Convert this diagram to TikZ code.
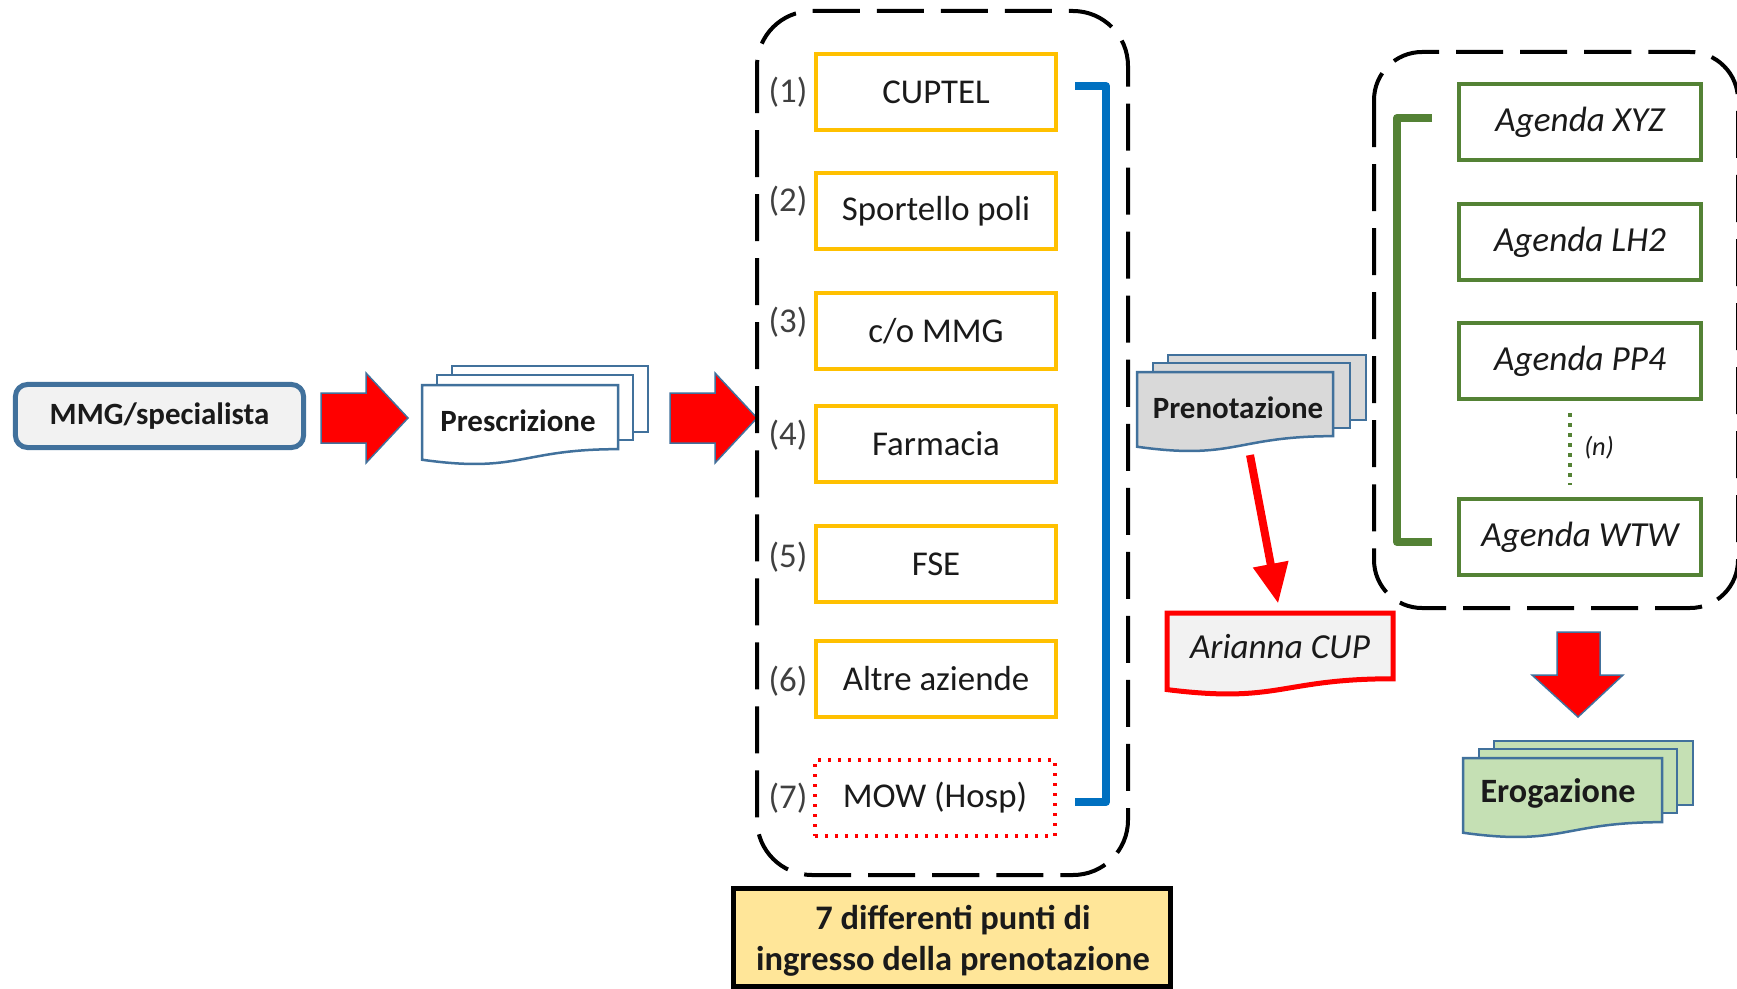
\documentclass[tikz,border=0pt]{standalone}
\usepackage{fontspec}
\setmainfont{Carlito}
\usetikzlibrary{arrows.meta}

\definecolor{steel}{HTML}{41719C}
\definecolor{cupyellow}{HTML}{FFC000}
\definecolor{agreen}{HTML}{548235}
\definecolor{cblue}{HTML}{0070C0}
\definecolor{redc}{HTML}{FF0000}
\definecolor{gold}{HTML}{FFE699}
\definecolor{paleg}{HTML}{F2F2F2}
\definecolor{docgray}{HTML}{D9D9D9}
\definecolor{docgreen}{HTML}{C5E0B4}
\definecolor{txt}{HTML}{1A1A1A}
\definecolor{numtxt}{HTML}{404040}

% one sheet of a flow-chart "document": top-left x, y, width, height, style
\newcommand\docsheet[5]{%
  \filldraw[#5] (#1,#2) -- ({#1+#3},#2) -- ({#1+#3},{#2+0.802*#4})
    .. controls ({#1+0.5*#3},{#2+0.802*#4}) and ({#1+0.5*#3},{#2+1.107*#4})
    .. (#1,{#2+0.934*#4}) -- cycle;}

\begin{document}
\begin{tikzpicture}[x=0.01cm,y=-0.01cm,
  txtbase/.style={text=txt, inner sep=0pt},
  entry/.style={txtbase, draw=cupyellow, line width=0.04cm, fill=white,
    minimum width=2.40cm, minimum height=0.76cm,
    font=\fontsize{9.9}{12}\selectfont},
  agenda/.style={txtbase, draw=agreen, line width=0.04cm, fill=white,
    minimum width=2.41cm, minimum height=0.76cm,
    font=\fontsize{10}{12}\selectfont\itshape},
  num/.style={text=numtxt, inner sep=0pt, font=\fontsize{9.9}{12}\selectfont},
  doclabel/.style={txtbase, font=\fontsize{8.8}{11}\selectfont\bfseries},
  docline/.style={draw=steel, line width=0.025cm},
  dashbox/.style={draw=black, line width=0.04cm, dash pattern=on 0.47cm off 0.17cm},
  blockarrow/.style={fill=redc, draw=steel, line width=0.015cm, line join=miter},
  bracket/.style={line width=0.08cm, line join=round}
]
\useasboundingbox (0,0) rectangle (1737,988);
\fill[white] (0,0) rectangle (1737,988);

% ---- source ----
\node[txtbase, draw=steel, line width=0.05cm, fill=paleg, rounded corners=0.12cm,
  minimum width=2.88cm, minimum height=0.63cm,
  font=\fontsize{8.8}{11}\selectfont\bfseries] (mmg) at (159.5,416) {MMG/specialista};

% block arrow: source -> prescription
\filldraw[blockarrow] (321,393) -- (366,393) -- (366,373) -- (408,418)
  -- (366,463) -- (366,443) -- (321,443) -- cycle;

% ---- prescription (stack of sheets) ----
\filldraw[docline, fill=white] (452,366) rectangle (648,432);
\filldraw[docline, fill=white] (437,375) rectangle (633,440);
\docsheet{422}{385}{196}{80}{docline, fill=white}
\node[doclabel] (presc) at (518,421) {Prescrizione};

% block arrow: prescription -> entry points
\filldraw[blockarrow] (670,393) -- (715,393) -- (715,373) -- (757,418)
  -- (715,463) -- (715,443) -- (670,443) -- cycle;

% ---- entry points ----
\draw[dashbox, rounded corners=0.55cm] (757,11) rectangle (1128,875);

\node[entry] (e1) at (936,92)  {CUPTEL};
\node[entry] (e2) at (936,211) {Sportello poli};
\node[entry] (e3) at (936,331) {c/o MMG};
\node[entry] (e4) at (936,444) {Farmacia};
\node[entry] (e5) at (936,564) {FSE};
\node[entry] (e6) at (936,679) {Altre aziende};
\node[entry, draw=redc, fill=none, line width=0.035cm,
  dash pattern=on 0.033cm off 0.067cm] (e7) at (935,798) {MOW (Hosp)};

\node[num] (n1) at (788,92)  {(1)};
\node[num] (n2) at (788,201) {(2)};
\node[num] (n3) at (788,322) {(3)};
\node[num] (n4) at (788,435) {(4)};
\node[num] (n5) at (788,557) {(5)};
\node[num] (n6) at (788,681) {(6)};
\node[num] (n7) at (788,798) {(7)};

\draw[bracket, draw=cblue] (1075,86) -- (1106,86) -- (1106,802) -- (1075,802);

\node[draw=black, line width=0.05cm, fill=gold, minimum width=4.36cm,
  minimum height=0.97cm, inner sep=0pt] (caption) at (952,937.5) {};
\node[text=txt, align=center, inner sep=0pt,
  font=\fontsize{9.8}{11.8}\selectfont\bfseries] (captext) at (953,941)
  {7 differenti punti di\\ingresso della prenotazione};

% ---- booking ----
\filldraw[docline, fill=docgray] (1168,355) rectangle (1366,420);
\filldraw[docline, fill=docgray] (1153,363) rectangle (1350,428);
\docsheet{1137}{372}{196}{80}{docline, fill=docgray}
\node[doclabel] (pren) at (1238,408) {Prenotazione};

\docsheet{1167}{613}{226}{82}{draw=redc, line width=0.05cm, fill=paleg}
\node[txtbase, minimum width=2.26cm, minimum height=0.66cm,
  font=\fontsize{10}{12}\selectfont\itshape] (arianna) at (1280,647) {Arianna CUP};

\coordinate (prenout) at (1250,455);
\draw[redc, line width=0.08cm, -{Triangle[width=0.34cm,length=0.40cm]},
  shorten >=0.1cm] (prenout) -- (arianna.north);

% ---- agendas ----
\draw[dashbox, rounded corners=0.48cm] (1374,52) rectangle (1738,608);

\node[agenda] (a1) at (1580,122) {Agenda XYZ};
\node[agenda] (a2) at (1580,242) {Agenda LH2};
\node[agenda] (a3) at (1580,361) {Agenda PP4};
\node[agenda] (a4) at (1580,537) {Agenda WTW};

\draw[agreen, line width=0.04cm, dash pattern=on 0.035cm off 0.065cm,
  shorten <=0.12cm, shorten >=0.12cm]
  ([xshift=-0.1cm]a3.south) -- ([xshift=-0.1cm]a4.north);
\node[text=txt, inner sep=0pt, font=\fontsize{7.5}{9}\selectfont\itshape] (nn) at (1599,448) {(n)};

\draw[bracket, draw=agreen] (1432,118) -- (1397,118) -- (1397,542) -- (1432,542);

% block arrow: agendas -> delivery
\filldraw[blockarrow] (1557,632) -- (1600,632) -- (1600,675) -- (1623,675)
  -- (1578,717) -- (1532,675) -- (1557,675) -- cycle;

% ---- delivery ----
\filldraw[docline, fill=docgreen] (1494,741) rectangle (1693,805);
\filldraw[docline, fill=docgreen] (1479,749) rectangle (1677,813);
\docsheet{1463}{758}{199}{80}{docline, fill=docgreen}
\node[txtbase, font=\fontsize{9.7}{12}\selectfont\bfseries] (erog) at (1558,793) {Erogazione};
\end{tikzpicture}
\end{document}
